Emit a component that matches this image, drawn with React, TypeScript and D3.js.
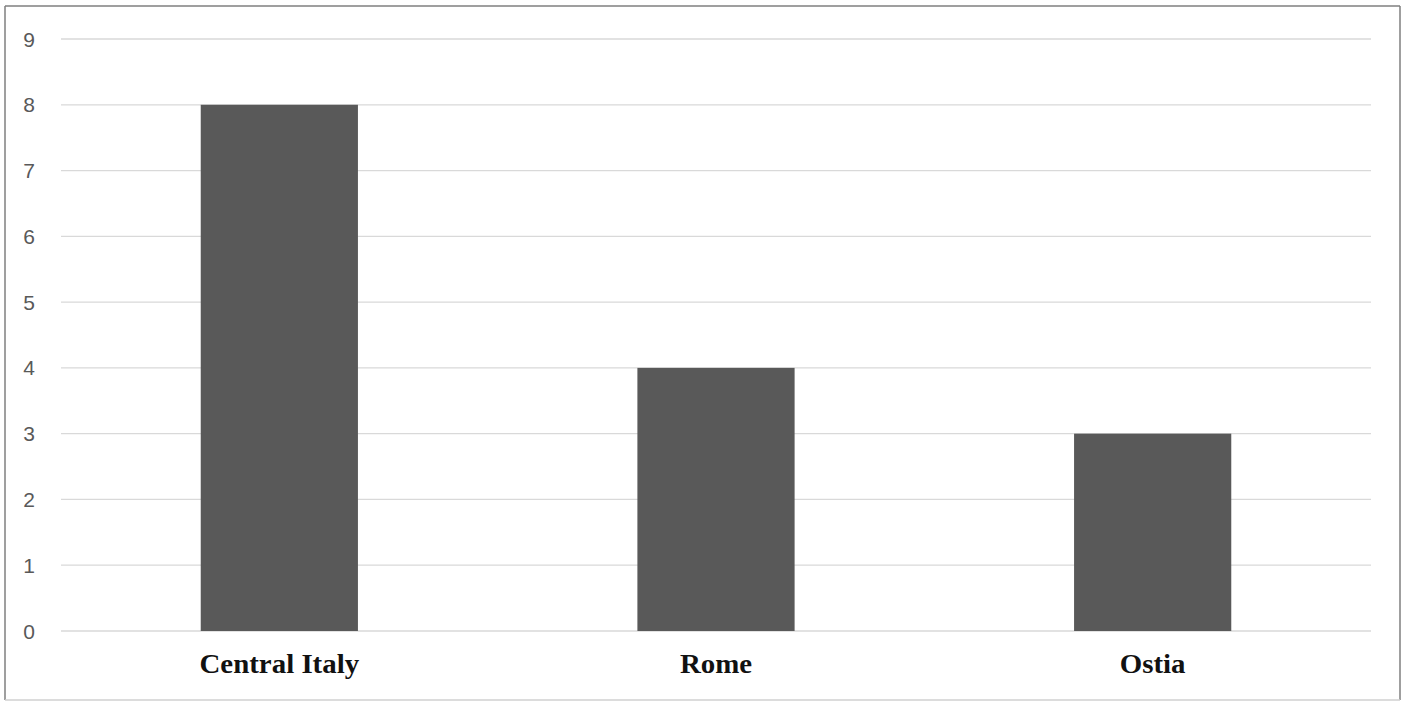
import React from "react";
import * as d3 from "d3";

const categories = ["Central Italy", "Rome", "Ostia"];
const values = [8, 4, 3];
const yTicks = [0, 1, 2, 3, 4, 5, 6, 7, 8, 9];

export default function App() {
  const W = 1405, H = 702;
  const left = 61, right = 1371, top = 39, bottom = 631;
  const x = d3.scaleBand<string>().domain(categories).range([left, right]).paddingInner(0.64).paddingOuter(0.32);
  const y = d3.scaleLinear().domain([0, 9]).range([bottom, top]);
  return (
    <svg width={W} height={H} style={{ position: "absolute", left: 0, top: 0, background: "#fff" }}>
      <rect x={0} y={0} width={W} height={H} fill="#fff" />
      {yTicks.map((t) => (
        <g key={t}>
          <line x1={left} x2={right} y1={y(t)} y2={y(t)} stroke="#d9d9d9" strokeWidth={1.3} />
          <text x={29} y={y(t)} dy="0.36em" textAnchor="middle" fontFamily="'Liberation Sans', Arial, sans-serif" fontSize={21} fill="#595959">{t}</text>
        </g>
      ))}
      {categories.map((c, i) => {
        const cx = x(c)! + x.bandwidth() / 2;
        return (
          <g key={c}>
            <rect x={x(c)!} y={y(values[i])} width={x.bandwidth()} height={y(0) - y(values[i])} fill="#595959" />
            <text transform={`translate(${cx},673) scale(1.07,1)`} textAnchor="middle" fontFamily="'Liberation Serif', 'Times New Roman', serif" fontWeight="bold" fontSize={27} fill="#111">{c}</text>
          </g>
        );
      })}
      <line x1={5} x2={5} y1={6} y2={700} stroke="#7f7f7f" strokeWidth={1.5} />
      <line x1={5} x2={1400} y1={6} y2={6} stroke="#7f7f7f" strokeWidth={1.5} />
      <line x1={1400} x2={1400} y1={6} y2={700} stroke="#7f7f7f" strokeWidth={1.5} />
      <line x1={5} x2={1400} y1={700} y2={700} stroke="#d0d0d0" strokeWidth={1.5} />
    </svg>
  );
}
